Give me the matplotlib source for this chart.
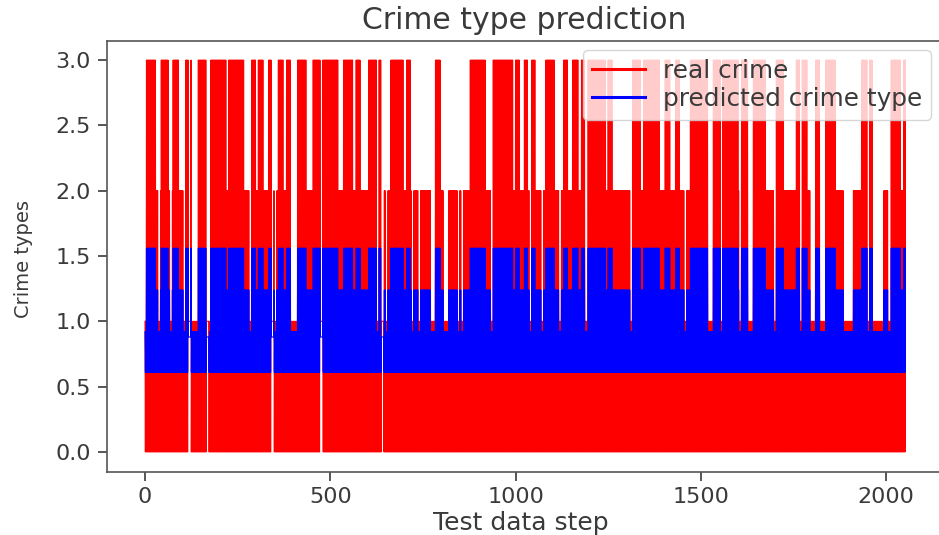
import numpy as np
import matplotlib
matplotlib.use("Agg")
import matplotlib.pyplot as plt

# Run table: each run starts at a step and has a peak crime type.
run_starts = [0, 3, 30, 43, 63, 76, 92, 110, 126, 144, 165, 177, 219, 225, 267, 285, 300, 306, 320, 333,
              348, 360, 373, 381, 393, 412, 436, 454, 522, 535, 561, 570, 582, 603, 625, 630, 643, 663,
              697, 706, 718, 738, 744, 771, 784, 798, 805, 820, 877, 920, 933, 940, 994, 1000, 1012,
              1023, 1034, 1041, 1054, 1081, 1106, 1129, 1142, 1154, 1169, 1178, 1188, 1196, 1243, 1250,
              1262, 1309, 1338, 1345, 1390, 1403, 1417, 1431, 1444, 1471, 1520, 1534, 1601, 1609, 1628,
              1642, 1676, 1703, 1723, 1757, 1788, 1795, 1810, 1822, 1838, 1864, 1885, 1912, 1934, 1963,
              1993, 2006, 2013, 2040, 2047]
run_peaks = [1, 3, 2, 3, 2, 3, 2, 3, 1, 3, 1, 3, 2, 3, 2, 3, 2, 3, 2, 3,
             2, 3, 2, 3, 1, 3, 2, 3, 2, 3, 2, 3, 2, 3, 2, 3, 2, 3,
             2, 3, 2, 1, 2, 1, 3, 2, 1, 2, 3, 2, 1, 3, 2, 3, 2,
             3, 2, 3, 2, 3, 2, 3, 2, 3, 2, 3, 1, 3, 2, 3,
             2, 3, 2, 3, 2, 3, 2, 3, 2, 3, 1, 3, 2, 3, 1,
             3, 2, 3, 2, 3, 2, 1, 3, 1, 3, 2, 1, 2, 3, 1,
             2, 1, 3, 2, 3]
last_step = 2052

# Short dips of the real series down to type 1, read as the thin pale lines.
dip_steps = [36, 68, 104, 281, 349, 625, 650, 720, 843, 854, 1037, 1070, 1118, 1309, 1456, 1554, 1604, 1698, 1768, 1949]
# Short stretches where the real series stays above 0 and the prediction above 0.88.
raised_steps = [117, 166, 341, 473, 638]

# Prediction peak for each real peak type, and its floors.
predicted_peak = {1: 0.92, 2: 1.24, 3: 1.56}
predicted_floor = 0.61
predicted_raised_floor = 0.88

xticks = [0, 500, 1000, 1500, 2000]
yticks = [0.0, 0.5, 1.0, 1.5, 2.0, 2.5, 3.0]
ytick_labels = ["0.0", "0.5", "1.0", "1.5", "2.0", "2.5", "3.0"]

steps = np.arange(last_step + 1)
lengths = np.diff(run_starts + [last_step + 1])
peaks = np.repeat(run_peaks, lengths)
for d in dip_steps:
    peaks[d:d + 6] = 1

pred_high = np.array([predicted_peak[p] for p in peaks])
real = peaks.astype(float).copy()
real[1::2] = 0.0
pred = pred_high.copy()
pred[1::2] = predicted_floor
for r in raised_steps:
    real[r:r + 7] = 1.0
    pred[r:r + 7] = predicted_raised_floor

text_color = "#3a3a3a"
fig = plt.figure(figsize=(9.39, 5.35), dpi=100)
ax = fig.add_axes([107 / 939, 1 - 471.5 / 535, (945 - 107) / 939, (471.5 - 40.5) / 535])
ax.plot(steps, real, color="red", lw=0.8, label="real crime")
ax.plot(steps, pred, color="blue", lw=0.8, label="predicted crime type")
ax.set_xlim(-102.6, 2159)
ax.set_ylim(-0.15, 3.15)
ax.set_xticks(xticks)
ax.set_yticks(yticks, ytick_labels)
ax.tick_params(labelsize=16, colors=text_color, length=6.5, width=1.2, pad=5)
for s in ax.spines.values():
    s.set_color("#555555")
    s.set_linewidth(1.2)
ax.set_title("Crime type prediction", fontsize=21.5, color=text_color, pad=8.5,
             x=(524 - 107) / 838)
ax.set_xlabel("Test data step", fontsize=18, color=text_color)
ax.xaxis.set_label_coords((521 - 107) / 838, -(511 - 471.5) / 431)
ax.set_ylabel("Crime types", fontsize=14, color=text_color)
ax.yaxis.set_label_coords((33 - 107) / 838, (471.5 - 258.5) / 431)
leg = ax.legend(loc="upper right", fontsize=17.8, bbox_to_anchor=(931 / 939, 1 - 50 / 535),
                bbox_transform=fig.transFigure, borderaxespad=0, labelspacing=0.17,
                borderpad=0.36, handlelength=2.15, handletextpad=0.72, labelcolor=text_color)
for line in leg.get_lines():
    line.set_linewidth(2.2)
fig.savefig("out.png", dpi=100)
